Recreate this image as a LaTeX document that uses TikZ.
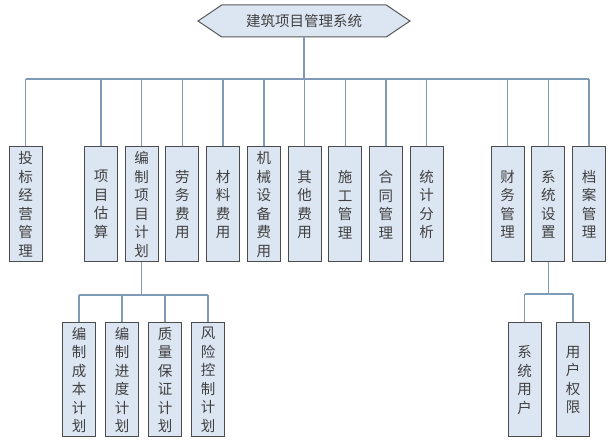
\documentclass[tikz,border=0pt]{standalone}
\usepackage{fontspec}
\newfontfamily\cjk{Noto Sans CJK SC}
\usepackage{tikz}
\usetikzlibrary{shapes.symbols,positioning}
\definecolor{azzurrino}{HTML}{DCE6F2}
\definecolor{linea}{HTML}{7F9AB6}
\definecolor{testo}{HTML}{404040}
\tikzstyle{titolo} = [signal,signal to=west and east,signal pointer angle=68,draw=black!65,line width=1pt,fill=azzurrino,minimum width=212pt,minimum height=32pt,inner sep=0pt,text=testo,font=\cjk\fontsize{14.5}{18}\selectfont]
\tikzstyle{modulo} = [rectangle,draw=black!70,line width=1pt,fill=azzurrino,minimum width=33pt,minimum height=115pt,inner sep=0pt,align=center,text=testo,font=\cjk\fontsize{14.5}{18.5}\selectfont]
\tikzstyle{ramo} = [draw=linea,line width=1.4pt]

\begin{document}
\begin{tikzpicture}[x=1pt,y=-1pt,node distance=40.7pt]
\useasboundingbox (0,0) rectangle (611,443);

\node (root) [titolo] at (304,21) {建筑项目管理系统};

\node (M1)  [modulo] at (25.5,204.5) {投\\标\\经\\营\\管\\理};
\node (M2)  [modulo,right of=M1,xshift=34.8pt] {项\\目\\估\\算};
\node (M3)  [modulo,right of=M2] {编\\制\\项\\目\\计\\划};
\node (M4)  [modulo,right of=M3] {劳\\务\\费\\用};
\node (M5)  [modulo,right of=M4] {材\\料\\费\\用};
\node (M6)  [modulo,right of=M5] {机\\械\\设\\备\\费\\用};
\node (M7)  [modulo,right of=M6] {其\\他\\费\\用};
\node (M8)  [modulo,right of=M7] {施\\工\\管\\理};
\node (M9)  [modulo,right of=M8] {合\\同\\管\\理};
\node (M10) [modulo,right of=M9] {统\\计\\分\\析};
\node (M11) [modulo,right of=M10,xshift=40.3pt] {财\\务\\管\\理};
\node (M12) [modulo,right of=M11] {系\\统\\设\\置};
\node (M13) [modulo,right of=M12] {档\\案\\管\\理};

\node (S1) [modulo,minimum height=114pt] at (79,380) {编\\制\\成\\本\\计\\划};
\node (S2) [modulo,minimum height=114pt,right of=S1,xshift=2.3pt] {编\\制\\进\\度\\计\\划};
\node (S3) [modulo,minimum height=114pt,right of=S2,xshift=2.3pt] {质\\量\\保\\证\\计\\划};
\node (S4) [modulo,minimum height=114pt,right of=S3,xshift=2.3pt] {风\\险\\控\\制\\计\\划};

\node (U1) [modulo,minimum height=114pt] at (524.5,380) {系\\统\\用\\户};
\node (U2) [modulo,minimum height=114pt,right of=U1,xshift=7.8pt] {用\\户\\权\\限};

\coordinate (bus) at (304,79);
\coordinate (busS) at (142,295);
\coordinate (busU) at (548.5,294);

% livello 1
\draw[ramo] (root.south) -- (bus);
\draw[ramo] (M1.north |- bus) -- (M13.north |- bus);
\draw[ramo] (M1.north) -- (M1.north |- bus);
\draw[ramo] (M2.north) -- (M2.north |- bus);
\draw[ramo] (M3.north) -- (M3.north |- bus);
\draw[ramo] (M4.north) -- (M4.north |- bus);
\draw[ramo] (M5.north) -- (M5.north |- bus);
\draw[ramo] (M6.north) -- (M6.north |- bus);
\draw[ramo] (M7.north) -- (M7.north |- bus);
\draw[ramo] (M8.north) -- (M8.north |- bus);
\draw[ramo] (M9.north) -- (M9.north |- bus);
\draw[ramo] (M10.north) -- (M10.north |- bus);
\draw[ramo] (M11.north) -- (M11.north |- bus);
\draw[ramo] (M12.north) -- (M12.north |- bus);
\draw[ramo] (M13.north) -- (M13.north |- bus);

% livello 2
\draw[ramo] (M3.south) -- (M3.south |- busS);
\draw[ramo] (S1.north |- busS) -- (S4.north |- busS);
\draw[ramo] (S1.north) -- (S1.north |- busS);
\draw[ramo] (S2.north) -- (S2.north |- busS);
\draw[ramo] (S3.north) -- (S3.north |- busS);
\draw[ramo] (S4.north) -- (S4.north |- busS);

\draw[ramo] (M12.south) -- (M12.south |- busU);
\draw[ramo] (U1.north |- busU) -- (U2.north |- busU);
\draw[ramo] (U1.north) -- (U1.north |- busU);
\draw[ramo] (U2.north) -- (U2.north |- busU);
\end{tikzpicture}
\end{document}
